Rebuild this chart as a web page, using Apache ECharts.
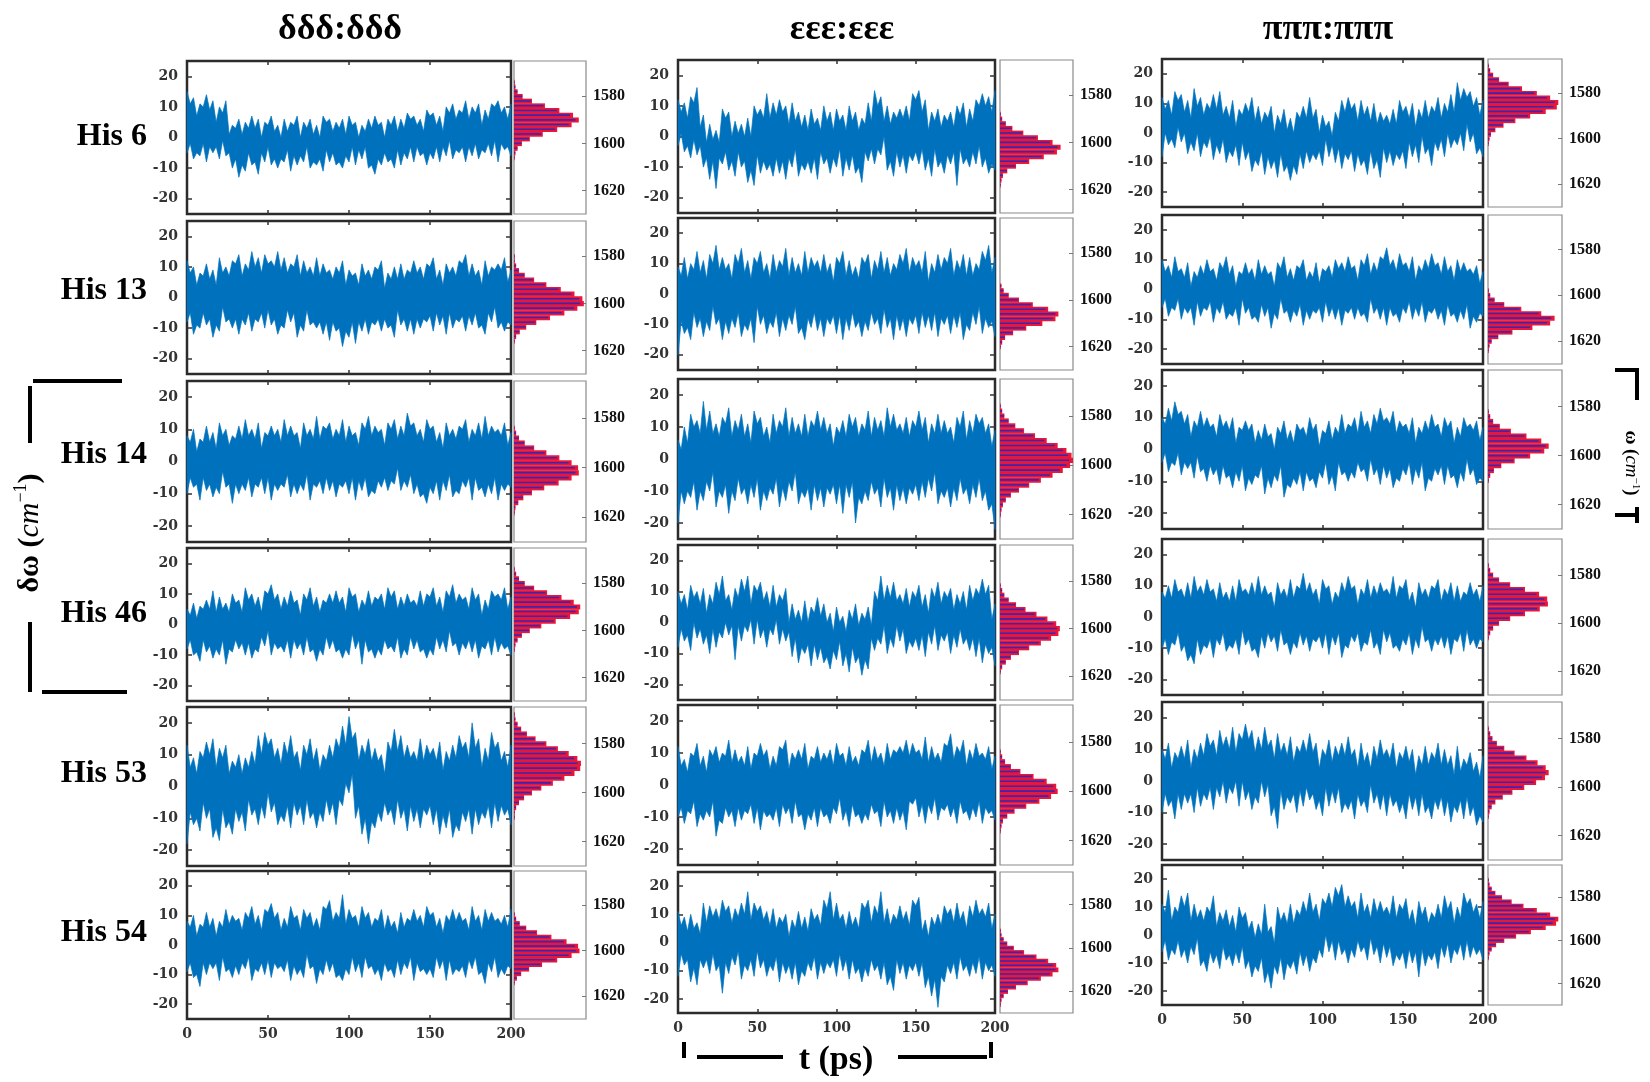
<!DOCTYPE html>
<html>
<head>
<meta charset="utf-8">
<script src="https://cdn.jsdelivr.net/npm/echarts@6/dist/echarts.min.js"></script>
<style>
html, body { margin: 0; padding: 0; background: #fff; }
#main { width: 1650px; height: 1082px; }
</style>
</head>
<body>
<div id="main"></div>
<script>
// time points (ps) of the envelope samples
var times = [0,2,4,6,8,10,12,14,16,18,20,22,24,26,28,30,32,34,36,38,40,42,44,46,48,50,52,54,56,58,60,62,64,66,68,70,72,74,76,78,80,82,84,86,88,90,92,94,96,98,100,102,104,106,108,110,112,114,116,118,120,122,124,126,128,130,132,134,136,138,140,142,144,146,148,150,152,154,156,158,160,162,164,166,168,170,172,174,176,178,180,182,184,186,188,190,192,194,196,198,200];
var residues = ['His 6', 'His 13', 'His 14', 'His 46', 'His 53', 'His 54'];
var states = ['δδδ:δδδ', 'εεε:εεε', 'πππ:πππ'];
var shiftTicks = [-20, -10, 0, 10, 20];
var timeTicks = [0, 50, 100, 150, 200];
var timeMinor = [50, 100, 150];
var omegaTicks = [1580, 1600, 1620];
var binWidth = 2;

// δδδ:δδδ  -- upper / lower edge of the δω trace
var delta6Max = [15,11,13,7,11,10,14,9,12,5,10,8,12,1,4,3,6,1,5,3,7,3,6,0,5,4,7,2,4,0,6,2,5,4,7,0,5,3,6,1,4,0,7,5,6,2,5,3,6,1,7,4,5,0,4,2,6,3,7,4,5,0,6,4,7,2,6,3,8,6,7,4,6,2,9,7,8,4,7,2,10,8,11,6,9,8,12,6,10,8,11,4,9,6,11,10,12,8,10,6,11];
var delta6Min = [-5,-2,-7,-5,-6,-2,-8,-3,-5,-3,-7,-1,-6,-5,-10,-7,-13,-9,-11,-5,-9,-8,-12,-5,-8,-3,-9,-7,-10,-7,-8,-4,-11,-6,-9,-6,-8,-3,-10,-8,-9,-7,-11,-4,-8,-5,-9,-8,-10,-6,-8,-3,-9,-4,-7,-3,-10,-9,-12,-7,-9,-5,-8,-7,-10,-4,-9,-5,-7,-3,-8,-3,-6,-5,-9,-5,-7,-3,-8,-3,-6,-1,-7,-4,-5,-3,-8,-3,-6,-2,-7,-4,-5,-2,-6,-1,-8,-2,-4,-3,-6];
var delta13Max = [12,8,10,4,8,7,11,6,9,4,13,8,10,7,12,11,14,7,11,9,15,10,13,8,14,11,12,10,15,9,13,8,11,10,14,7,12,8,10,7,13,7,11,8,9,6,10,8,12,4,9,7,8,4,11,7,9,6,10,9,12,3,8,6,10,6,11,6,9,8,12,8,10,6,11,10,13,6,9,4,11,8,10,7,12,11,14,7,11,7,9,4,12,7,10,9,11,9,13,5,9];
var delta13Min = [-8,-5,-12,-9,-10,-5,-9,-7,-13,-9,-11,-3,-8,-7,-10,-7,-12,-7,-9,-5,-11,-7,-8,-5,-10,-4,-9,-7,-12,-9,-10,-4,-8,-5,-13,-9,-11,-4,-9,-8,-10,-8,-12,-8,-14,-8,-11,-10,-16,-11,-13,-8,-15,-8,-11,-7,-12,-8,-9,-7,-11,-7,-10,-9,-13,-4,-9,-7,-11,-7,-12,-7,-10,-7,-8,-6,-11,-5,-9,-6,-12,-5,-10,-7,-8,-6,-11,-6,-9,-5,-10,-9,-12,-5,-8,-3,-10,-8,-11,-8,-9];
var delta14Max = [8,6,10,3,7,6,11,6,9,4,12,8,10,5,8,7,11,7,13,8,10,7,12,4,9,8,11,8,10,6,13,8,11,8,9,4,12,8,10,7,14,7,11,10,12,7,10,8,13,6,11,8,9,5,12,10,14,8,11,9,10,5,12,10,13,7,11,8,15,11,12,8,10,6,13,10,11,6,9,4,12,8,10,7,11,10,13,6,10,8,12,7,14,8,11,9,10,8,12,5,9];
var delta14Min = [-10,-5,-8,-7,-12,-5,-9,-7,-11,-8,-10,-3,-8,-7,-13,-7,-10,-7,-9,-5,-11,-7,-8,-5,-10,-5,-12,-7,-9,-7,-8,-4,-11,-7,-10,-7,-9,-4,-12,-7,-8,-6,-10,-5,-9,-6,-11,-7,-8,-6,-10,-5,-12,-6,-9,-5,-11,-9,-10,-6,-8,-5,-9,-6,-7,-2,-9,-6,-8,-4,-10,-7,-11,-10,-13,-8,-10,-6,-12,-6,-9,-4,-11,-9,-10,-6,-8,-5,-12,-5,-9,-8,-11,-7,-10,-5,-12,-7,-9,-7,-8];
var delta46Max = [5,3,7,2,6,5,8,5,11,4,9,5,7,4,10,7,8,4,12,8,10,6,9,4,11,10,13,8,10,5,9,6,11,7,8,3,10,8,12,6,9,4,8,7,10,7,11,7,9,4,12,9,10,4,8,6,11,6,9,8,10,5,12,9,11,5,9,6,10,7,8,6,11,6,10,9,12,6,9,4,11,9,13,7,10,8,9,5,12,8,10,3,8,5,11,9,10,8,12,5,9];
var delta46Min = [-8,-5,-10,-9,-12,-5,-9,-7,-11,-8,-10,-5,-13,-8,-9,-5,-8,-6,-10,-6,-11,-8,-9,-4,-7,-2,-10,-6,-8,-7,-9,-5,-11,-5,-8,-6,-10,-4,-9,-8,-12,-8,-10,-4,-8,-5,-9,-8,-11,-8,-10,-3,-8,-5,-13,-5,-9,-8,-11,-8,-10,-5,-8,-7,-9,-4,-11,-8,-10,-4,-8,-5,-9,-8,-11,-8,-10,-4,-8,-5,-9,-2,-7,-6,-10,-6,-8,-5,-9,-5,-11,-7,-8,-5,-10,-4,-9,-6,-8,-7,-10];
var delta53Max = [13,6,9,4,11,9,14,10,15,6,12,9,13,4,8,6,10,4,9,6,11,7,16,10,17,13,15,9,12,7,14,10,16,9,11,5,13,10,15,8,12,5,10,8,13,9,15,12,19,13,22,15,17,8,13,10,15,8,12,8,10,4,14,11,18,11,16,9,13,9,11,8,15,8,13,10,12,8,14,5,11,8,13,9,16,12,14,9,20,12,15,6,12,8,17,12,14,8,11,6,13];
var delta53Min = [-18,-8,-12,-10,-14,-5,-10,-7,-16,-13,-17,-7,-13,-11,-15,-7,-11,-8,-14,-4,-9,-7,-12,-6,-10,-2,-8,-5,-12,-9,-11,-6,-13,-5,-9,-6,-12,-4,-10,-8,-13,-8,-11,-4,-9,-5,-12,-4,-6,1,-2,4,-10,-6,-15,-10,-18,-11,-13,-8,-11,-5,-9,-7,-12,-4,-10,-7,-14,-6,-11,-7,-13,-7,-9,-6,-12,-7,-15,-9,-13,-7,-16,-12,-14,-8,-11,-7,-15,-7,-12,-8,-10,-6,-13,-5,-11,-6,-9,-7,-12];
var delta54Max = [8,6,10,3,7,6,11,6,9,3,8,6,12,7,10,8,9,5,11,9,13,7,10,5,12,11,14,9,11,5,9,6,13,9,10,5,12,9,11,6,9,5,13,12,15,8,11,9,17,7,12,9,10,6,13,9,11,6,9,8,12,5,10,6,8,4,11,6,9,8,12,8,10,6,13,10,11,6,9,4,10,8,12,8,11,8,9,5,13,8,10,5,12,8,11,8,9,7,10,6,12];
var delta54Min = [-9,-6,-11,-10,-14,-6,-10,-6,-8,-6,-12,-4,-9,-8,-11,-7,-10,-6,-8,-4,-12,-8,-9,-6,-10,-5,-11,-6,-8,-7,-9,-5,-12,-7,-10,-8,-11,-3,-8,-7,-13,-8,-10,-5,-9,-6,-11,-10,-12,-8,-10,-4,-9,-6,-11,-4,-8,-7,-10,-8,-12,-6,-9,-8,-11,-5,-10,-6,-8,-4,-12,-6,-9,-8,-10,-8,-11,-4,-8,-5,-12,-5,-10,-8,-9,-7,-11,-5,-8,-4,-10,-9,-13,-6,-9,-4,-11,-8,-10,-7,-8];

// εεε:εεε
var eps6Max = [12,8,11,6,13,11,16,3,7,-2,4,-1,2,-2,9,6,8,0,5,1,4,0,6,0,10,7,9,6,14,6,11,7,12,8,10,4,11,5,8,3,7,2,9,4,6,2,10,5,8,2,9,5,7,2,10,5,8,2,6,4,11,5,15,10,13,5,10,4,8,6,9,6,10,5,14,12,15,8,12,2,8,5,9,3,7,5,8,3,10,7,11,3,9,5,12,10,14,10,13,8,15];
var eps6Min = [-3,1,-5,-3,-7,-1,-6,-3,-10,-7,-14,-8,-17,-7,-9,-5,-11,-8,-13,-5,-10,-8,-15,-11,-16,-6,-12,-8,-11,-9,-13,-7,-12,-8,-14,-7,-10,-4,-13,-9,-11,-8,-12,-7,-14,-5,-9,-7,-12,-7,-10,-4,-13,-7,-11,-6,-12,-10,-15,-5,-8,-4,-9,-4,-6,0,-11,-8,-13,-5,-10,-6,-12,-6,-8,-5,-9,-4,-11,-7,-13,-4,-10,-8,-12,-6,-9,-5,-16,-4,-9,-7,-10,-5,-9,-3,-10,-7,-12,-9,-11];
var eps13Max = [9,6,12,5,10,8,14,7,11,5,13,10,16,8,12,8,10,5,13,10,15,7,11,5,12,10,14,7,10,5,13,7,11,9,15,6,12,7,10,6,14,7,12,9,11,7,13,7,10,4,12,10,14,6,11,6,9,5,12,10,13,5,11,8,14,7,12,6,10,8,13,10,15,7,12,9,11,7,14,4,10,7,13,8,12,10,15,6,11,8,13,6,12,6,10,8,14,11,16,7,12];
var eps13Min = [-20,-9,-13,-11,-15,-6,-11,-8,-14,-9,-12,-4,-10,-8,-15,-9,-13,-8,-11,-6,-14,-10,-12,-8,-16,-4,-10,-7,-13,-9,-11,-6,-14,-8,-12,-7,-10,-4,-13,-11,-15,-8,-11,-6,-12,-8,-14,-8,-10,-7,-13,-7,-15,-8,-12,-6,-11,-9,-14,-9,-12,-6,-10,-8,-13,-5,-11,-8,-15,-7,-12,-8,-14,-8,-10,-7,-13,-6,-11,-7,-12,-6,-14,-8,-10,-7,-13,-7,-11,-6,-15,-10,-12,-6,-10,-4,-13,-8,-11,-9,-14];
var eps14Max = [6,3,10,5,14,10,12,8,18,9,15,8,11,7,13,11,16,7,12,9,14,7,11,5,15,11,13,7,10,5,14,8,12,10,16,7,13,8,11,7,14,7,12,10,15,9,13,8,11,4,10,8,12,7,14,10,13,7,11,9,15,7,13,9,12,7,16,10,14,9,11,8,13,7,12,10,15,9,13,5,11,8,14,8,12,8,10,5,13,10,15,6,12,8,14,11,13,8,11,4,9];
var eps14Min = [-20,-10,-14,-10,-12,-7,-16,-10,-13,-7,-10,-4,-15,-10,-12,-8,-17,-10,-13,-6,-11,-9,-14,-8,-12,-6,-16,-10,-13,-9,-11,-6,-15,-9,-13,-7,-10,-4,-14,-10,-12,-9,-16,-8,-13,-9,-15,-9,-11,-8,-14,-8,-17,-8,-12,-7,-20,-12,-14,-10,-13,-7,-11,-9,-15,-6,-12,-9,-16,-8,-13,-9,-14,-9,-11,-8,-13,-7,-12,-6,-10,-4,-14,-10,-12,-9,-15,-9,-13,-6,-11,-9,-14,-8,-12,-6,-13,-10,-16,-14,-22];
var eps46Max = [10,6,9,4,12,8,10,6,11,3,9,6,13,9,15,7,9,4,11,8,14,10,15,6,12,10,13,7,10,5,12,5,9,7,11,0,6,1,4,0,7,0,5,3,8,2,6,0,3,-3,5,0,2,-3,4,1,6,-1,3,1,5,-1,10,7,15,7,12,8,13,7,9,6,11,5,10,8,12,5,9,3,11,8,13,6,10,8,11,4,9,6,10,4,12,7,11,9,14,9,12,1,6];
var eps46Min = [-8,-2,-6,-4,-9,0,-5,-2,-7,-4,-10,-2,-8,-3,-5,0,-4,-1,-12,-1,-6,-1,-3,1,-7,1,-5,-2,-8,-2,-4,1,-7,-2,-6,-3,-11,-5,-13,-8,-10,-7,-14,-7,-12,-8,-13,-11,-15,-9,-12,-6,-14,-10,-16,-8,-13,-11,-17,-12,-15,-5,-9,-5,-7,-1,-10,-5,-8,-1,-6,-2,-10,-6,-8,-5,-9,-4,-11,-3,-7,-1,-9,-4,-6,-3,-10,-4,-8,-2,-7,-5,-9,-5,-11,-5,-13,-7,-10,-8,-14];
var eps53Max = [12,6,8,4,10,9,13,6,9,4,11,9,12,7,10,9,14,7,11,7,9,6,12,5,10,9,13,9,11,5,9,6,12,11,14,5,10,8,11,8,13,5,9,8,12,7,10,8,11,6,13,9,10,6,12,7,9,6,11,10,14,7,12,8,10,6,13,8,11,10,12,10,14,9,13,10,11,8,15,7,12,8,10,7,13,12,16,8,12,10,14,6,11,8,13,9,10,8,12,5,9];
var eps53Min = [-10,-7,-12,-8,-9,-5,-13,-9,-11,-8,-10,-5,-16,-11,-12,-7,-10,-8,-13,-7,-11,-8,-9,-6,-12,-7,-14,-8,-10,-9,-11,-7,-13,-6,-9,-7,-12,-5,-10,-9,-14,-9,-11,-7,-13,-7,-10,-9,-12,-7,-9,-4,-11,-8,-13,-6,-10,-9,-12,-9,-11,-6,-9,-8,-13,-5,-10,-8,-12,-7,-11,-8,-14,-5,-6,-4,-10,-6,-12,-6,-9,-4,-11,-7,-8,-6,-10,-7,-12,-5,-9,-8,-11,-7,-10,-5,-12,-7,-9,-8,-11];
var eps54Max = [11,6,9,4,10,5,7,3,14,7,13,9,12,8,15,11,13,7,12,9,14,10,18,8,14,11,13,8,11,6,12,5,9,7,10,2,8,5,11,5,9,4,12,8,10,6,15,12,18,8,14,8,10,5,11,6,9,5,14,12,15,7,13,10,18,7,12,6,10,8,13,8,11,6,15,13,16,4,8,2,9,6,10,6,13,10,12,7,14,8,11,5,13,9,15,10,12,9,14,5,10];
var eps54Min = [-12,-4,-8,-6,-14,-9,-15,-6,-9,-6,-11,-4,-10,-8,-18,-7,-11,-5,-8,-3,-13,-8,-10,-6,-12,-3,-9,-6,-12,-8,-10,-5,-14,-7,-11,-8,-13,-7,-15,-10,-12,-7,-10,-5,-13,-7,-11,-7,-9,-6,-12,-4,-10,-6,-13,-6,-11,-9,-14,-9,-12,-6,-10,-8,-13,-7,-15,-12,-17,-6,-11,-7,-13,-8,-10,-7,-12,-7,-16,-12,-19,-13,-23,-12,-14,-8,-11,-7,-13,-5,-10,-8,-12,-7,-11,-5,-13,-7,-10,-8,-12];

// πππ:πππ
var pi6Max = [12,8,11,6,14,11,13,7,11,5,15,9,12,6,10,8,13,8,14,6,9,5,11,2,8,6,10,7,12,4,9,3,7,5,9,0,6,3,8,1,5,0,7,5,9,5,12,5,8,0,6,2,4,-1,7,4,11,7,12,8,10,4,11,6,9,4,10,3,7,4,6,3,8,3,11,7,9,5,10,2,8,5,11,5,9,7,12,5,10,7,13,7,17,11,15,12,14,9,12,6,11];
var pi6Min = [-8,0,-4,-2,-5,2,-3,0,-7,-3,-6,0,-8,-3,-5,-1,-9,-4,-7,-2,-10,-6,-8,-4,-11,-3,-9,-6,-13,-9,-11,-6,-14,-8,-12,-9,-15,-7,-13,-11,-16,-11,-14,-7,-12,-6,-10,-7,-9,-6,-11,-2,-8,-4,-10,-5,-12,-7,-9,-6,-13,-7,-11,-9,-14,-6,-12,-9,-15,-5,-10,-6,-11,-7,-9,-6,-12,-3,-8,-4,-10,-1,-7,-5,-11,-3,-6,-2,-8,0,-5,-2,-4,0,-6,3,-3,0,-7,-5,-8];
var pi13Max = [10,6,8,4,11,6,7,4,9,1,6,4,8,5,10,6,7,3,9,7,11,5,8,1,6,5,9,5,7,3,10,5,8,5,6,1,9,7,11,4,7,3,8,7,10,3,6,4,9,2,7,6,8,4,10,7,9,6,11,7,8,3,10,8,12,5,9,6,11,10,14,8,10,6,12,8,9,6,11,3,8,6,10,7,12,8,9,5,11,6,8,3,10,6,9,6,7,5,8,2,6];
var pi13Min = [-6,-3,-9,-6,-7,-3,-10,-6,-8,-6,-12,-4,-9,-6,-7,-4,-11,-6,-8,-4,-10,-8,-9,-6,-12,-3,-8,-6,-10,-9,-11,-5,-9,-6,-13,-8,-10,-3,-8,-7,-11,-7,-9,-5,-12,-7,-10,-7,-8,-6,-11,-4,-9,-6,-10,-6,-12,-7,-8,-6,-10,-6,-9,-8,-11,-3,-8,-6,-10,-6,-12,-6,-9,-8,-11,-6,-8,-4,-10,-6,-9,-4,-11,-7,-8,-6,-10,-7,-12,-5,-9,-8,-11,-7,-10,-5,-13,-9,-11,-8,-9];
var pi14Max = [10,8,13,9,15,11,12,8,11,4,9,7,12,7,10,7,8,4,11,7,9,6,10,2,7,6,9,6,8,2,6,3,8,4,5,0,7,5,9,3,6,2,8,6,7,4,10,6,8,1,6,5,9,3,7,5,11,5,8,7,10,5,12,7,9,5,11,8,13,9,10,8,12,5,9,7,8,5,10,2,7,5,9,6,11,7,8,4,10,7,9,2,7,4,10,7,8,6,9,3,7];
var pi14Min = [-4,-1,-7,-4,-5,-1,-8,-4,-6,-4,-9,-2,-7,-6,-10,-5,-8,-6,-11,-5,-9,-8,-12,-7,-10,-5,-13,-9,-11,-8,-9,-5,-14,-9,-12,-8,-10,-5,-15,-11,-12,-9,-11,-7,-13,-7,-10,-9,-12,-7,-9,-4,-11,-8,-13,-4,-8,-7,-10,-7,-9,-4,-7,-6,-10,-3,-8,-6,-11,-5,-9,-6,-12,-9,-10,-6,-8,-4,-11,-6,-9,-4,-13,-9,-10,-6,-8,-5,-11,-5,-9,-8,-12,-7,-10,-3,-8,-6,-11,-9,-10];
var pi46Max = [8,6,10,6,12,8,9,6,11,6,13,8,10,7,12,8,9,5,11,6,8,5,10,5,12,8,9,7,11,7,13,7,10,7,8,3,11,7,9,6,12,6,10,9,14,8,11,7,9,4,12,9,10,4,8,6,11,8,13,9,10,4,9,7,12,6,10,7,11,8,9,7,13,6,10,9,12,5,8,3,11,7,9,6,10,9,12,5,9,7,11,5,10,5,8,7,11,7,9,5,10];
var pi46Min = [-10,-7,-12,-8,-9,-5,-11,-9,-14,-12,-15,-7,-12,-9,-10,-7,-13,-7,-9,-5,-11,-9,-10,-7,-12,-4,-9,-7,-11,-10,-13,-6,-10,-5,-8,-6,-11,-4,-9,-8,-12,-8,-10,-5,-9,-6,-11,-7,-8,-6,-10,-5,-12,-6,-9,-5,-13,-9,-10,-6,-8,-5,-11,-8,-9,-4,-10,-8,-12,-4,-8,-5,-10,-9,-11,-7,-9,-5,-12,-7,-10,-3,-8,-7,-11,-7,-9,-6,-10,-6,-12,-7,-8,-5,-11,-4,-9,-7,-10,-7,-8];
var pi53Max = [10,7,12,4,9,7,11,7,13,4,10,7,12,8,15,11,13,8,16,11,14,10,17,9,15,13,18,13,16,9,14,10,17,11,13,7,15,9,12,8,14,6,11,9,13,9,15,9,12,4,10,8,13,6,11,8,12,8,14,8,10,4,12,6,9,4,11,7,13,8,10,7,12,4,9,7,11,6,10,2,8,5,11,5,9,7,12,5,10,5,8,2,11,3,7,5,9,3,6,1,8];
var pi53Min = [-10,-4,-8,-6,-12,-4,-9,-4,-7,-4,-10,-2,-8,-4,-6,-2,-9,-2,-5,0,-7,-2,-4,0,-8,0,-6,-3,-9,-5,-7,0,-5,-1,-11,-8,-15,-3,-9,-5,-7,-4,-10,-3,-8,-2,-6,-4,-9,-6,-11,-2,-8,-3,-7,-2,-10,-7,-9,-6,-12,-4,-8,-6,-10,-1,-7,-4,-9,-4,-11,-4,-8,-6,-10,-7,-12,-4,-9,-5,-11,-4,-10,-8,-12,-6,-9,-5,-11,-6,-13,-8,-10,-6,-12,-5,-11,-8,-14,-11,-13];
var pi54Max = [11,8,16,5,10,8,14,10,15,5,11,6,9,5,10,8,14,3,8,5,9,3,7,1,10,6,8,2,5,-1,4,0,11,1,3,-3,10,5,8,4,11,4,9,7,12,8,15,8,11,5,13,11,15,10,17,14,18,10,14,10,12,6,15,8,11,6,13,8,12,8,10,7,14,6,11,9,13,5,9,3,12,7,10,4,8,6,11,6,14,9,12,4,10,6,15,11,13,8,11,6,12];
var pi54Min = [-6,-2,-9,-5,-7,-2,-8,-5,-10,-4,-7,-1,-11,-9,-13,-6,-10,-7,-12,-4,-9,-7,-11,-6,-10,-4,-12,-9,-15,-11,-13,-8,-17,-13,-19,-11,-14,-8,-16,-10,-12,-9,-14,-6,-11,-7,-13,-8,-10,-5,-8,0,-6,-2,-9,-2,-7,-5,-10,-5,-8,-2,-6,-4,-9,-1,-7,-4,-10,-3,-8,-4,-11,-7,-9,-6,-12,-5,-10,-6,-15,-5,-11,-7,-9,-6,-12,-4,-8,-3,-10,-5,-7,-3,-9,-2,-8,-4,-7,-5,-9];

// ω histograms (relative height), 2 cm-1 bins starting at the given ω
var deltaHistStart = [1574, 1580, 1584, 1574, 1568, 1584];
var delta6Hist = [.01,.02,.05,.12,.25,.43,.63,.82,.9,.8,.6,.4,.22,.11,.05,.02,.01];
var delta13Hist = [.01,.01,.03,.07,.15,.28,.45,.65,.84,.95,.97,.88,.70,.50,.31,.17,.08,.03,.01];
var delta14Hist = [.01,.03,.07,.15,.28,.45,.63,.80,.89,.90,.80,.62,.42,.25,.13,.06,.02,.01];
var delta46Hist = [.01,.03,.07,.15,.28,.46,.66,.83,.92,.90,.78,.58,.38,.22,.11,.05,.02,.01];
var delta53Hist = [.01,.02,.05,.10,.18,.30,.45,.61,.76,.88,.93,.92,.84,.70,.54,.38,.25,.14,.07,.03,.01,.01];
var delta54Hist = [.01,.03,.08,.17,.32,.52,.73,.89,.91,.80,.60,.39,.21,.10,.04,.01];

var epsHistStart = [1588, 1594, 1576, 1582, 1584, 1592];
var eps6Hist = [.01,.03,.08,.17,.32,.52,.72,.83,.78,.60,.40,.22,.10,.04,.02,.01];
var eps13Hist = [.02,.05,.12,.26,.45,.66,.80,.76,.58,.36,.18,.07,.03,.01];
var eps14Hist = [.01,.03,.06,.12,.21,.33,.48,.64,.79,.91,.98,1.0,.96,.86,.72,.56,.40,.26,.15,.08,.04,.02,.01];
var eps46Hist = [.01,.03,.06,.12,.22,.35,.50,.65,.77,.82,.80,.70,.56,.40,.26,.15,.08,.03,.01];
var eps53Hist = [.01,.03,.07,.15,.28,.46,.64,.77,.79,.70,.54,.36,.20,.10,.04,.02,.01];
var eps54Hist = [.01,.02,.05,.10,.19,.33,.50,.66,.77,.80,.72,.56,.38,.22,.11,.05,.02,.01];

var piHistStart = [1568, 1598, 1582, 1576, 1576, 1572];
var pi6Hist = [.01,.03,.07,.15,.28,.46,.66,.84,.95,.93,.78,.57,.37,.21,.10,.04,.02,.01];
var pi13Hist = [.01,.03,.09,.22,.45,.72,.90,.84,.60,.33,.14,.05,.02,.01];
var pi14Hist = [.01,.03,.07,.16,.31,.52,.72,.82,.76,.57,.36,.18,.08,.03,.01];
var pi46Hist = [.01,.03,.07,.15,.30,.50,.69,.80,.81,.70,.50,.30,.15,.07,.03,.01];
var pi53Hist = [.01,.03,.06,.12,.22,.36,.52,.67,.78,.82,.77,.65,.49,.33,.20,.10,.05,.02,.01];
var pi54Hist = [.01,.02,.05,.10,.19,.32,.48,.66,.84,.95,.92,.78,.58,.38,.22,.11,.05,.02,.01];

var traceMax = [
	[delta6Max, delta13Max, delta14Max, delta46Max, delta53Max, delta54Max],
	[eps6Max, eps13Max, eps14Max, eps46Max, eps53Max, eps54Max],
	[pi6Max, pi13Max, pi14Max, pi46Max, pi53Max, pi54Max]
];
var traceMin = [
	[delta6Min, delta13Min, delta14Min, delta46Min, delta53Min, delta54Min],
	[eps6Min, eps13Min, eps14Min, eps46Min, eps53Min, eps54Min],
	[pi6Min, pi13Min, pi14Min, pi46Min, pi53Min, pi54Min]
];
var hists = [
	[delta6Hist, delta13Hist, delta14Hist, delta46Hist, delta53Hist, delta54Hist],
	[eps6Hist, eps13Hist, eps14Hist, eps46Hist, eps53Hist, eps54Hist],
	[pi6Hist, pi13Hist, pi14Hist, pi46Hist, pi53Hist, pi54Hist]
];
var histStart = [deltaHistStart, epsHistStart, piHistStart];

// panel boxes in px
var boxX = [[187, 511], [678, 995], [1162, 1483]];
var histBoxX = [[514, 586], [1000, 1073], [1488, 1562]];
var boxY = [
	[[61, 214], [221, 374], [381, 542], [548, 701], [707, 866], [871, 1019]],
	[[60, 213], [218, 370], [379, 539], [545, 700], [705, 865], [872, 1013]],
	[[59, 207], [215, 364], [370, 529], [539, 695], [702, 860], [865, 1005]]
];
var titleX = [340, 842, 1328];
var labelY = [137, 291, 455, 614, 774, 933];

var chart = echarts.init(document.getElementById('main'), null, { renderer: 'canvas' });

var grid = [], xAxis = [], yAxis = [], series = [];
var tickFont = 'DejaVu Serif';

function bandRenderer(rows) {
	return function (params, api) {
		if (params.dataIndex !== 0) return null;
		var upper = [], lower = [], i;
		for (i = 0; i < rows.length; i++) {
			upper.push(api.coord([rows[i][0], rows[i][1]]));
			lower.unshift(api.coord([rows[i][0], rows[i][2]]));
		}
		return {
			type: 'polygon',
			shape: { points: upper.concat(lower) },
			style: { fill: '#0072bd', stroke: '#0072bd', lineWidth: 0.7, lineJoin: 'bevel' }
		};
	};
}

function renderBin(params, api) {
	var w = api.value(0), om = api.value(1);
	var p0 = api.coord([0, om - binWidth / 2]);
	var p1 = api.coord([w, om + binWidth / 2]);
	var pc = api.coord([w, om]);
	var y0 = Math.min(p0[1], p1[1]);
	var h = Math.abs(p1[1] - p0[1]) + 0.4;
	var len = p1[0] - p0[0];
	return {
		type: 'group',
		children: [
			{ type: 'rect', shape: { x: p0[0], y: y0, width: len, height: h }, style: { fill: '#e8173a' } },
			{ type: 'line', shape: { x1: p0[0], y1: pc[1], x2: p0[0] + len * 0.95, y2: pc[1] },
				style: { stroke: '#3a26b0', lineWidth: 1.6 } }
		]
	};
}

var c, r, i;
for (c = 0; c < 3; c++) {
	for (r = 0; r < 6; r++) {
		var yb = boxY[c][r];
		var gi = grid.length;
		grid.push({
			left: boxX[c][0], top: yb[0],
			width: boxX[c][1] - boxX[c][0], height: yb[1] - yb[0],
			show: true, borderColor: '#2b2b2b', borderWidth: 2.5, backgroundColor: '#fff'
		});
		var xi = xAxis.length, yi = yAxis.length;
		xAxis.push({
			gridIndex: gi, type: 'value', min: 0, max: 200, position: 'bottom',
			axisLine: { show: false, onZero: false }, splitLine: { show: false },
			axisTick: { inside: true, length: 4, customValues: timeMinor, lineStyle: { color: '#333', width: 1.5 } },
			axisLabel: { show: r === 5, customValues: timeTicks, margin: 8, fontFamily: tickFont,
				fontWeight: 'bold', fontSize: 14, color: '#333' }
		});
		xAxis.push({
			gridIndex: gi, type: 'value', min: 0, max: 200, position: 'top',
			axisLine: { show: false, onZero: false }, splitLine: { show: false },
			axisTick: { inside: true, length: 4, customValues: timeMinor, lineStyle: { color: '#333', width: 1.5 } },
			axisLabel: { show: false }
		});
		yAxis.push({
			gridIndex: gi, type: 'value', min: -25, max: 25, position: 'left',
			axisLine: { show: false, onZero: false }, splitLine: { show: false },
			axisTick: { inside: true, length: 5, customValues: shiftTicks, lineStyle: { color: '#333', width: 1.5 } },
			axisLabel: { customValues: shiftTicks, margin: 9, fontFamily: tickFont,
				fontWeight: 'bold', fontSize: 14, color: '#333' }
		});
		yAxis.push({
			gridIndex: gi, type: 'value', min: -25, max: 25, position: 'right',
			axisLine: { show: false, onZero: false }, splitLine: { show: false },
			axisTick: { inside: true, length: 5, customValues: shiftTicks, lineStyle: { color: '#333', width: 1.5 } },
			axisLabel: { show: false }
		});

		var upperEdge = traceMax[c][r], lowerEdge = traceMin[c][r], rows = [];
		var n = Math.min(times.length, upperEdge.length, lowerEdge.length);
		for (i = 0; i < n; i++) {
			rows.push([times[i], upperEdge[i], lowerEdge[i]]);
		}
		series.push({
			type: 'custom', xAxisIndex: xi, yAxisIndex: yi, silent: true,
			encode: { x: 0, y: [1, 2] },
			data: rows, renderItem: bandRenderer(rows)
		});

		// histogram of ω
		var hg = grid.length;
		grid.push({
			left: histBoxX[c][0], top: yb[0],
			width: histBoxX[c][1] - histBoxX[c][0], height: yb[1] - yb[0],
			show: true, borderColor: '#8a8a8a', borderWidth: 1.2, backgroundColor: '#fff'
		});
		var hx = xAxis.length, hy = yAxis.length;
		xAxis.push({ gridIndex: hg, type: 'value', min: 0, max: 1, show: false });
		yAxis.push({
			gridIndex: hg, type: 'value', min: 1565, max: 1630, inverse: true, position: 'right',
			axisLine: { show: false, onZero: false }, splitLine: { show: false },
			axisTick: { inside: true, length: 4, customValues: omegaTicks, lineStyle: { color: '#777', width: 1 } },
			axisLabel: { customValues: omegaTicks, margin: 7, fontFamily: 'Liberation Serif',
				fontWeight: 'bold', fontSize: 16, color: '#111',
				formatter: function (v) { return String(v); } }
		});
		var hv = hists[c][r], bins = [];
		for (i = 0; i < hv.length; i++) {
			bins.push([hv[i], histStart[c][r] + i * binWidth]);
		}
		series.push({
			type: 'custom', xAxisIndex: hx, yAxisIndex: hy, silent: true,
			encode: { x: 0, y: 1 },
			data: bins, renderItem: renderBin
		});
	}
}

var serif = 'Liberation Serif';
var graphic = [];

states.forEach(function (s, k) {
	graphic.push({
		type: 'text', x: titleX[k], y: 30, z: 100,
		style: { text: s, fontFamily: serif, fontWeight: 'bold', fontSize: 36, fill: '#000',
			align: 'center', verticalAlign: 'middle', textAlign: 'center', textVerticalAlign: 'middle' }
	});
});
residues.forEach(function (s, k) {
	graphic.push({
		type: 'text', x: 147, y: labelY[k], z: 100,
		style: { text: s, fontFamily: serif, fontWeight: 'bold', fontSize: 32, fill: '#000',
			align: 'right', verticalAlign: 'middle', textAlign: 'right', textVerticalAlign: 'middle' }
	});
});

function unitLabel(sym, size) {
	return {
		text: '{a|' + sym + ' (}{b|cm}{c|\u22121}{a|)}',
		align: 'center', verticalAlign: 'middle', textAlign: 'center', textVerticalAlign: 'middle',
		rich: {
			a: { fontFamily: serif, fontWeight: 'bold', fontSize: size, fill: '#000' },
			b: { fontFamily: serif, fontStyle: 'italic', fontSize: size, fill: '#000' },
			c: { fontFamily: serif, fontSize: Math.round(size * 0.6), fill: '#000',
				padding: [0, 0, Math.round(size * 0.55), 0] }
		}
	};
}

graphic.push({ type: 'text', x: 30, y: 533, rotation: Math.PI / 2, z: 100, style: unitLabel('δω', 30) });
graphic.push({ type: 'text', x: 1631, y: 463, rotation: -Math.PI / 2, z: 100, style: unitLabel('ω', 19) });
graphic.push({
	type: 'text', x: 836, y: 1060, z: 100,
	style: { text: 't (ps)', fontFamily: serif, fontWeight: 'bold', fontSize: 34, fill: '#000',
		align: 'center', verticalAlign: 'middle', textAlign: 'center', textVerticalAlign: 'middle' }
});

var bracketLines = [
	[33, 381, 122, 381], [30, 386, 30, 443], [30, 622, 30, 692], [42, 692, 127, 692],
	[1615, 370, 1638, 370], [1637, 368, 1637, 400], [1637, 507, 1637, 523], [1615, 515, 1635, 515],
	[684, 1042, 684, 1058], [697, 1057, 783, 1057], [898, 1057, 987, 1057], [991, 1042, 991, 1058]
];
bracketLines.forEach(function (l) {
	graphic.push({
		type: 'line', z: 100,
		shape: { x1: l[0], y1: l[1], x2: l[2], y2: l[3] },
		style: { stroke: '#000', lineWidth: 4 }
	});
});

chart.setOption({
	animation: false,
	backgroundColor: '#fff',
	grid: grid,
	xAxis: xAxis,
	yAxis: yAxis,
	series: series,
	graphic: { elements: graphic }
});
</script>
</body>
</html>
